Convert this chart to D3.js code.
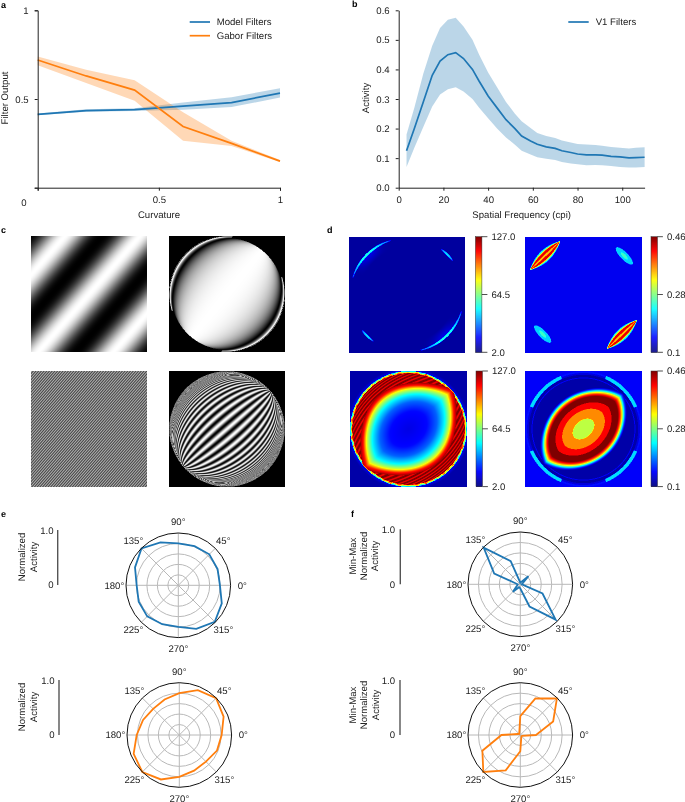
<!DOCTYPE html>
<html><head><meta charset="utf-8">
<script src="https://cdn.jsdelivr.net/npm/d3@7"></script>
<style>
html,body{margin:0;padding:0;background:#fff}
#wrap{position:relative;width:685px;height:802px;overflow:hidden}
canvas,svg{position:absolute;left:0;top:0}
text{font-family:"Liberation Sans",Arial,sans-serif;font-size:9.6px;fill:#222;text-rendering:geometricPrecision}
</style></head><body><div id="wrap"><canvas id="cv" width="685" height="802"></canvas><svg id="sv" width="685" height="802"></svg></div>
<script>
// ---- data ----
const curvature=[0,0.2,0.4,0.6,0.8,1];
const modelMean=[0.413,0.435,0.44,0.46,0.48,0.533];
const modelLow=[0.408,0.428,0.432,0.44,0.455,0.508];
const modelHigh=[0.418,0.442,0.448,0.48,0.51,0.56];
const gaborMean=[0.72,0.63,0.55,0.345,0.25,0.15];
const gaborLow=[0.69,0.59,0.49,0.265,0.235,0.145];
const gaborHigh=[0.74,0.665,0.605,0.425,0.265,0.156];
const freq=[3.5,7,11,15,18.5,22,25.5,29,33,36,40,44,48,52,55,59,62,66,70,73,77,80,84,88,91,95,99,103,106,110];
const v1Mean=[.125,.2,.29,.38,.428,.45,.457,.437,.40,.36,.31,.27,.23,.2,.175,.158,.147,.138,.133,.125,.119,.114,.111,.111,.110,.106,.104,.101,.102,.103];
const v1High=[.18,.27,.385,.48,.54,.568,.575,.545,.50,.45,.39,.34,.29,.25,.225,.202,.185,.175,.168,.16,.153,.148,.146,.144,.142,.138,.135,.133,.135,.137];
const v1Low=[.07,.135,.205,.275,.315,.333,.34,.325,.30,.27,.235,.20,.17,.145,.125,.112,.103,.098,.094,.087,.082,.079,.076,.077,.076,.073,.07,.068,.068,.07];
const polarAngles=[0,22.5,45,67.5,90,112.5,135,157.5,180,202.5,225,247.5,270,292.5,315,337.5];
const polarE1=[.796,.813,.838,.81,.80,.89,.995,.896,.796,.82,.84,.805,.796,.90,.987,.90];
const polarE2=[.81,.917,.995,.927,.80,.735,.707,.75,.815,.945,1.0,.92,.80,.737,.72,.78];
const polarF1=[.03,.05,.22,.05,.03,.48,.99,.54,.05,.07,.2,.06,.08,.46,.955,.46];
const polarF2=[.30,.68,.99,.755,.36,.05,.03,.05,.36,.785,1.0,.73,.31,.05,.03,.04];
const polarTickLabels=["0°","45°","90°","135°","180°","225°","270°","315°"];
const rings=[0.2,0.4,0.6,0.8];
const blue="#1f77b4",orange="#ff7f0e";

const svg=d3.select("#sv");
const ctx=document.getElementById("cv").getContext("2d");
const txt=(x,y,s,anchor="middle",extra={})=>{
  const t=svg.append("text").attr("x",x).attr("y",y).attr("dy","0.35em").attr("text-anchor",anchor).text(s);
  for(const k in extra)t.style(k,extra[k]);return t;};
const rot=(x,y,s)=>svg.append("text").attr("transform",`translate(${x},${y}) rotate(-90)`).attr("dy","0.35em").attr("text-anchor","middle").text(s);

// panel letters
[["a",1,5],["b",352,4],["c",1,230],["d",327,230],["e",1,514],["f",351,514]].forEach(d=>
  txt(d[1],d[2],d[0],"start",{"font-weight":"bold","font-size":"9px","fill":"#000"}));

function styleAxis(g){g.selectAll("path,line").attr("stroke","#222").attr("stroke-width",1);g.selectAll("text").style("font-size","9.6px").attr("fill",null);}

// ---- panel a ----
{
 const x=d3.scaleLinear().domain([0,1]).range([37.7,280]);
 const y=d3.scaleLinear().domain([0,1]).range([187.7,10.3]);
 const area=(lo,hi)=>d3.area().x((d,i)=>x(curvature[i])).y0((d,i)=>y(lo[i])).y1((d,i)=>y(hi[i]))(curvature);
 const line=m=>d3.line().x((d,i)=>x(curvature[i])).y((d,i)=>y(m[i]))(curvature);
 svg.append("path").attr("d",area(modelLow,modelHigh)).attr("fill",blue).attr("opacity",.3);
 svg.append("path").attr("d",area(gaborLow,gaborHigh)).attr("fill",orange).attr("opacity",.3);
 svg.append("path").attr("d",line(modelMean)).attr("fill","none").attr("stroke",blue).attr("stroke-width",1.7);
 svg.append("path").attr("d",line(gaborMean)).attr("fill","none").attr("stroke",orange).attr("stroke-width",1.7);
 const fy=d=>d===0?"":String(d);
 svg.append("g").attr("transform","translate(0,187.7)").call(d3.axisBottom(x).tickValues([0,.5,1]).tickSize(3).tickSizeOuter(3).tickPadding(5).tickFormat(fy)).call(styleAxis);
 svg.append("g").attr("transform","translate(37.7,0)").call(d3.axisLeft(y).tickValues([0,.5,1]).tickSize(3).tickSizeOuter(3).tickPadding(6).tickFormat(fy)).call(styleAxis);
 txt(24,203,"0");
 txt(159,214.5,"Curvature");
 rot(5,98,"Filter Output");
 [[22,blue,"Model Filters"],[35.7,orange,"Gabor Filters"]].forEach(d=>{
  svg.append("line").attr("x1",189.7).attr("x2",210).attr("y1",d[0]).attr("y2",d[0]).attr("stroke",d[1]).attr("stroke-width",1.7);
  txt(216.7,d[0],d[2],"start");});
}
// ---- panel b ----
{
 const x=d3.scaleLinear().domain([0,110]).range([398.7,644.6]);
 const y=d3.scaleLinear().domain([0,.6]).range([187.7,10.3]);
 svg.append("path").attr("d",d3.area().x((d,i)=>x(freq[i])).y0((d,i)=>y(v1Low[i])).y1((d,i)=>y(v1High[i]))(freq)).attr("fill",blue).attr("opacity",.3);
 svg.append("path").attr("d",d3.line().x((d,i)=>x(freq[i])).y((d,i)=>y(v1Mean[i]))(freq)).attr("fill","none").attr("stroke",blue).attr("stroke-width",1.7);
 svg.append("g").attr("transform","translate(0,187.7)").call(d3.axisBottom(x).tickValues([0,20,40,60,80,100]).tickSize(3).tickSizeOuter(0).tickPadding(5)).call(styleAxis);
 svg.append("g").attr("transform","translate(398.7,0)").call(d3.axisLeft(y).tickValues([0,.1,.2,.3,.4,.5,.6]).tickSize(3).tickSizeOuter(0).tickPadding(6).tickFormat(d3.format(".1f"))).call(styleAxis);
 txt(521.7,215,"Spatial Frequency (cpi)");
 rot(366,98,"Activity");
 svg.append("line").attr("x1",568.3).attr("x2",588.7).attr("y1",22).attr("y2",22).attr("stroke",blue).attr("stroke-width",1.7);
 txt(595.7,22,"V1 Filters","start");
}
// ---- images ----
const jet=d3.scaleLinear().domain([0,.125,.375,.625,.875,1]).range(["#00007f","#0000ff","#00ffff","#ffff00","#ff0000","#7f0000"]).clamp(true);
const grayS=d3.scaleLinear().domain([0,1]).range(["#000","#fff"]).clamp(true);
function paint(x0,y0,w,h,fn,cs,ss=1){
 const px=ctx.createImageData(w,h);
 for(let j=0;j<h;j++)for(let i=0;i<w;i++){
  let sum=0;
  for(let a=0;a<ss;a++)for(let b=0;b<ss;b++){
   const u=i+(a+.5)/ss,v=j+(b+.5)/ss;
   sum+=fn((u-w/2)/(w/2),(v-h/2)/(h/2),u,v);}
  const c=d3.rgb(cs(sum/(ss*ss)));
  const k=4*(j*w+i);px.data[k]=c.r;px.data[k+1]=c.g;px.data[k+2]=c.b;px.data[k+3]=255;}
 ctx.putImageData(px,x0,y0);
}
const gratingC=(i,j,per)=>{const p=(i+.875*j-109)/per;return Math.pow(.5+.5*Math.cos(2*Math.PI*p),1.25);};
const warp=(x,y,ang)=>{const nx=Math.cos(ang),ny=Math.sin(ang);const s=x*nx+y*ny;const r2=x*x+y*y;return {s,t:-x*ny+y*nx,r2,r:Math.sqrt(r2)};};
paint(31,236,116,116,(x,y,i,j)=>gratingC(i,j,75),grayS);
paint(31,371,116,116,(x,y,i,j)=>.25+.5*gratingC(i,j,2.7),grayS,2);
paint(169,236,116,116,(x,y)=>{const w=warp(x,y,.68);if(w.r>=.995)return 0;
 if(w.r>.965&&Math.abs(w.s)<.55)return 0;
 const q=w.s/Math.sqrt(1-w.r2);const v=.5+.5*Math.cos(1.57*q);return Math.pow(v,.7);},grayS,2);
paint(169,371,116,116,(x,y)=>{const w=warp(x,y,.86);if(w.r>=.995)return 0;
 const q=w.s/Math.sqrt(1-w.r2);const k=.3+.7/(1+Math.pow(Math.abs(q)/1.7,4));
 return .5+.5*k*Math.cos(44*q);},grayS,2);

const lens=(a,b,k)=>{const cl=(a+Math.sqrt(a*a+4*b*b))/2;const ce=Math.sqrt(a*a+b*b);const m=k*Math.min(1,cl*cl);return ce*(1-m)+cl*m;};

// d top-left: thin arcs on navy
const arcs=[[107,162,.98,.2],[37,53,.985,.16],[218,234,.985,.16],[-76,-17,.98,.2]];
paint(349,237,116,116,(x,y)=>{const r=Math.hypot(x,y);const a=Math.atan2(-y,x)*180/Math.PI;let v=.03;
 for(const A of arcs){let aa=a;if(A[0]>180&&aa<0)aa+=360;if(aa>A[0]&&aa<A[1]){const u=(aa-A[0])/(A[1]-A[0]);
  const d=Math.abs(r-A[2]);const env=Math.sin(Math.PI*u);
  const w=.008+.012*env;
  if(d<w)v=Math.max(v,.12+A[3]*(.4+env));
  if(r<A[2]&&A[1]-A[0]>30){const halo=env*env*env*Math.max(0,1-(A[2]-r)/.17);v=Math.max(v,.03+.09*halo);}
 }}
 return v;},jet,2);

// d top-right: leaves and blobs
const feat=(x,y,ang,rc,L,W,round)=>{const c=ang*Math.PI/180;const cx=rc*Math.cos(c),cy=-rc*Math.sin(c);const tx=-Math.sin(c),ty=-Math.cos(c);
 const dx=x-cx,dy=y-cy;const p=(dx*tx+dy*ty)/L;const n=dx*Math.cos(c)-dy*Math.sin(c);
 if(Math.abs(p)>=1)return 1e3;
 return round?Math.hypot(p,n/W):Math.abs(n)/(W*(1-p*p));};
paint(525,237,117,116,(x,y)=>{let v=.11;
 for(const ang of [134,314]){const f=feat(x,y,ang,.945,.36,.1,false);if(f<1){
   v=f>.8?.36:f>.62?.6:f>.16?.9:.68;}}
 for(const ang of [44,224]){const f=feat(x,y,ang,.97,.2,.065,true);if(f<1){v=f>.4?.33:.43;}}
 return v;},jet,2);

// d bottom-left: lens basin with ringing rim
const basinMap=d3.scaleLinear().domain([0,.35,.55,.72,.85,.93,1]).range([.1,.13,.22,.375,.6,.85,.97]);
paint(350,371,117,116,(x,y)=>{const w=warp(x,y,.84);
 if(w.r>=.995)return .04+.07*Math.max(0,1-(w.r-.995)/.06);
 const c=lens(Math.abs(w.s)/.77,Math.abs(w.t)/1.03,.8);
 if(c<1)return basinMap(c);
 const ph=Math.cos(34*Math.abs(w.s)/(1.001-w.r*.6));
 if(w.r>.965){const sp=Math.sin(40*x+2)*Math.cos(40*y);return .6+.22*sp;}
 return .96+.08*ph;},jet,2);

// d bottom-right: stepped lens with navy rim
const slope=d3.scaleLinear().domain([.8,.85,.9,.94,.98,1.02]).range([1,.85,.65,.42,.2,.05]);
paint(525,371,117,116,(x,y)=>{const w=warp(x,y,.84);
 if(w.r>=.995)return .12;
 const a=Math.atan2(y,x);
 if(w.r>.935){const on=Math.abs(Math.sin(2*a));
  if(on>.72)return .34;
  return w.r>.965?.14:.09;}
 const c=lens(Math.abs(w.s)/.6,Math.abs(w.t)/.89,.45);
 if(c<.24)return .56;
 if(c<.48)return .74;
 if(c<.64)return .88;
 if(c<.8)return 1;
 if(c<1.02)return slope(c);
 return Math.abs(w.r-.88)<.008?.12:.04;},jet,2);

// ---- colorbars ----
const cbars=[[475.5,236.7,"127.0","64.5","2.0"],[651,236.7,"0.46","0.28","0.1"],[476,371,"127.0","64.5","2.0"],[651,371,"0.46","0.28","0.1"]];
cbars.forEach(b=>{
 const H=115.6,W=6.4;
 const y=d3.scaleLinear().domain([0,1]).range([b[1]+H,b[1]]);
 const g=svg.append("g");
 g.selectAll("rect").data(d3.range(0,1,1/116)).join("rect").attr("x",b[0]).attr("width",W).attr("y",d=>y(d)-1).attr("height",1.3).attr("fill",d=>jet(d));
 g.append("rect").attr("x",b[0]).attr("y",b[1]).attr("width",W).attr("height",H).attr("fill","none").attr("stroke","#333").attr("stroke-width",.5);
 [[0,b[4]],[.5,b[3]],[1,b[2]]].forEach(t=>{
  g.append("line").attr("x1",b[0]+W).attr("x2",b[0]+W+5.5).attr("y1",y(t[0])).attr("y2",y(t[0])).attr("stroke","#222").attr("stroke-width",.8);
  txt(b[0]+W+9.5,y(t[0]),t[1],"start",{"font-size":"9.6px"});});
});

// ---- polar ----
function polar(cx,cy,vals,col){
 const R=52.3;
 const r=d3.scaleLinear().domain([0,1]).range([0,R]);
 const g=svg.append("g").attr("transform",`translate(${cx},${cy})`);
 rings.forEach(v=>g.append("circle").attr("r",r(v)).attr("fill","none").attr("stroke","#b8b8b8").attr("stroke-width",1));
 d3.range(0,360,45).forEach(a=>{const t=a*Math.PI/180;
  g.append("line").attr("x1",0).attr("y1",0).attr("x2",r(1)*Math.cos(t)).attr("y2",-r(1)*Math.sin(t)).attr("stroke","#b8b8b8").attr("stroke-width",1);});
 g.append("path").attr("d",d3.lineRadial().curve(d3.curveLinearClosed).angle((d,i)=>Math.PI/2-polarAngles[i]*Math.PI/180).radius(d=>r(d))(vals))
  .attr("fill","none").attr("stroke",col).attr("stroke-width",1.8);
 g.append("circle").attr("r",R).attr("fill","none").attr("stroke","#111").attr("stroke-width",1);
 polarTickLabels.forEach((s,i)=>{const t=i*Math.PI/4;const diag=i%2===1;
  const px=(i%4===0)?64*Math.cos(t):diag?45*Math.sign(Math.cos(t)):0;
  const py=(i%4===2)?-63.5*Math.sin(t):diag?-44.7*Math.sign(Math.sin(t)):0;
  txt(cx+px,cy+py,s);});
}
polar(178.3,585.3,polarE1,blue);
polar(179.3,735,polarE2,orange);
polar(520.3,584.3,polarF1,blue);
polar(520.3,735,polarF2,orange);

function bar(x,y0,y1,tx){
 svg.append("line").attr("x1",x).attr("x2",x).attr("y1",y0).attr("y2",y1).attr("stroke","#555").attr("stroke-width",1.4);
 txt(tx,y0+.5,"1.0","end");txt(tx,y1,"0","end");
}
bar(57.7,530,585,53.5);
bar(59,680,735,54.5);
bar(400.3,529.3,584.3,395);
bar(400,680,735,395);
[[21.7,557,"Normalized"],[33.3,557,"Activity"],[22,707,"Normalized"],[33.3,707,"Activity"],
 [352.3,556,"Min-Max"],[363.5,556,"Normalized"],[375,556,"Activity"],
 [352.3,705,"Min-Max"],[363.5,705,"Normalized"],[375.3,705,"Activity"]].forEach(d=>rot(d[0],d[1],d[2]));
</script></body></html>
